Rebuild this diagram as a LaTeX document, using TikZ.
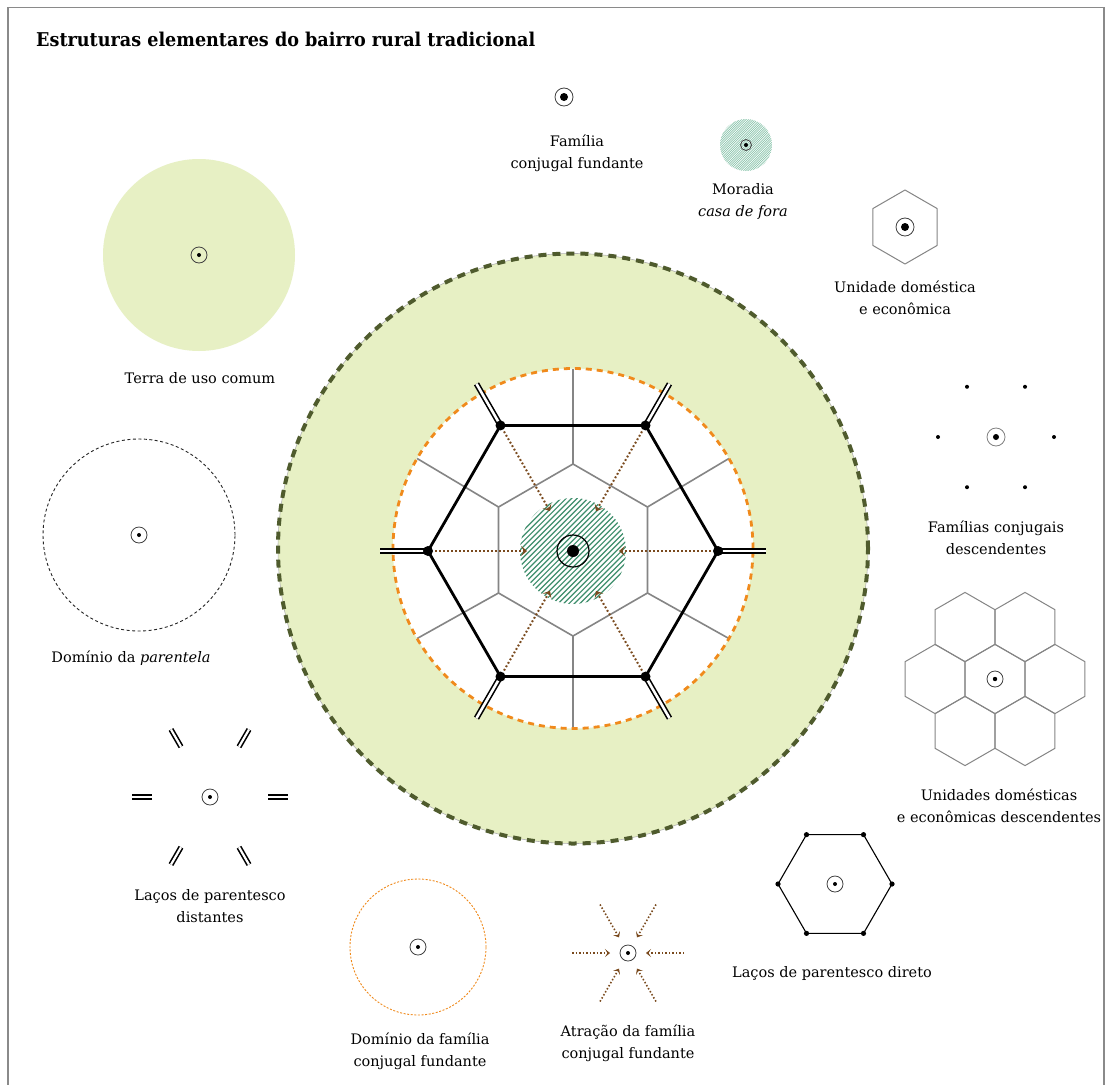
\documentclass[tikz,border=0pt]{standalone}
\usepackage{fontspec}
\setmainfont{DejaVu Serif}
\usetikzlibrary{arrows.meta,calc}
\definecolor{lgreen}{HTML}{E7F0C4}
\definecolor{olivec}{HTML}{4F5B2D}
\definecolor{orng}{HTML}{F08A1C}
\definecolor{brwn}{HTML}{7A4A1E}
\definecolor{hatchg}{HTML}{3E8E6C}
\definecolor{hatchl}{HTML}{8CC6AE}
\definecolor{framec}{HTML}{8A8A8A}
\definecolor{hexgray}{HTML}{858585}
\tikzset{
  lbl/.style={align=center, font=\fontsize{14.5}{22}\selectfont, inner sep=0pt},
  ringst/.style={draw=black!75, line width=0.8pt},
  darrow/.style={brwn, line width=2pt, dash pattern=on 1.8pt off 2.2pt,
    -{Stealth[length=6pt,width=10pt,inset=3pt]}},
  sarrow/.style={brwn, line width=1.6pt, dash pattern=on 1.5pt off 2pt,
    -{Stealth[length=5pt,width=8pt,inset=2.5pt]}},
  dbl/.style={line width=1.6pt, double=white, double distance=2.6pt},
  dblsmall/.style={line width=1.6pt, double=white, double distance=2.2pt},
  hexline/.style={hexgray, line width=1pt, line join=round},
}
\newcommand{\famring}[4]{\draw[ringst] (#1,#2) circle[radius=#3pt]; \fill (#1,#2) circle[radius=#4pt];}
\begin{document}
\begin{tikzpicture}[x=1pt,y=-1pt]
\useasboundingbox (0,0) rectangle (1108,1084);
\fill[white] (0,0) rectangle (1108,1084);
\draw[framec, line width=1.2pt] (8,1100) -- (8,7.5) -- (1104,7.5) -- (1104,1100);

\node[anchor=base west, font=\fontsize{19}{22}\selectfont\bfseries, inner sep=0pt] (title) at (36,46) {\scalebox{0.926}[1]{Estruturas elementares do bairro rural tradicional}};

% ---------- central diagram ----------
\coordinate (C) at (573,548.5);
\fill[lgreen] (C) circle[radius=295pt];
\draw[gray!60, line width=0.6pt] (C) circle[radius=295pt];
\draw[olivec, line width=4pt, dash pattern=on 8pt off 6pt] (C) circle[radius=295pt];
\fill[white] (C) circle[radius=180pt];

\coordinate (H) at (573,550);
\draw[hexgray, line width=1.6pt, line join=round]
  ($(H)+(30:86)$) -- ($(H)+(90:86)$) -- ($(H)+(150:86)$) -- ($(H)+(210:86)$) -- ($(H)+(270:86)$) -- ($(H)+(330:86)$) -- cycle;
\foreach \a in {30,90,...,330}
  \draw[hexgray, line width=1.6pt] ($(H)+(\a:86)$) -- ($(C)+(\a:180)$);

\coordinate (B) at (573,551);
\begin{scope}
  \clip (B) circle[radius=53pt];
  \foreach \i in {-15,...,15}
    \draw[hatchg, line width=1.2pt] ($(B)+(\i*5.4-80,80)$) -- ++(160,-160);
\end{scope}

\draw[orng, line width=2.8pt, dash pattern=on 6pt off 5pt] (C) circle[radius=180pt];

\foreach \a [count=\k] in {0,60,...,300}
  \coordinate (v\k) at ($(B)+(\a:145)$);
\draw[line width=2.8pt, line join=round] (v1)--(v2)--(v3)--(v4)--(v5)--(v6)--cycle;
\foreach \a [count=\k] in {0,60,...,300}
  \draw[dbl] (v\k) -- ($(B)+(\a:193)$);
\foreach \k in {1,...,6} {
  \fill (v\k) circle[radius=5pt];
  \draw[darrow] ($(v\k)!7pt!(B)$) -- ($(B)!46pt!(v\k)$);
}
\draw[line width=1.2pt] (B) circle[radius=16pt];
\fill (B) circle[radius=6pt];

% ---------- Familia conjugal fundante ----------
\famring{564}{97}{9}{4}
\node[lbl] (fam) at (577,153) {Família\\conjugal fundante};

% ---------- Moradia ----------
\coordinate (M) at (746,145);
\begin{scope}
  \clip (M) circle[radius=26pt];
  \foreach \i in {-20,...,20}
    \draw[hatchl, line width=0.7pt] ($(M)+(\i*2.3-40,40)$) -- ++(80,-80);
\end{scope}
\famring{746}{145}{5.5}{2}
\node[lbl] (mor) at (743,201) {Moradia\\\textit{casa de fora}};

% ---------- Unidade domestica ----------
\coordinate (U) at (905,227);
\draw[hexline] ($(U)+(30:37)$) -- ($(U)+(90:37)$) -- ($(U)+(150:37)$) -- ($(U)+(210:37)$) -- ($(U)+(270:37)$) -- ($(U)+(330:37)$) -- cycle;
\famring{905}{227}{9}{4}
\node[lbl] (unid) at (905,298) {Unidade doméstica\\e econômica};

% ---------- Terra de uso comum ----------
\fill[lgreen] (199,255) circle[radius=96pt];
\famring{199}{255}{8}{2}
\node[lbl] (terra) at (200,378) {Terra de uso comum};

% ---------- Familias conjugais descendentes ----------
\coordinate (F) at (996,437);
\draw[gray, line width=0.8pt] (F) circle[radius=9pt];
\fill (F) circle[radius=3pt];
\foreach \a in {0,60,...,300}
  \fill ($(F)+(\a:58)$) circle[radius=2pt];
\node[lbl] (famdesc) at (996,538) {Famílias conjugais\\descendentes};

% ---------- Honeycomb ----------
\foreach \cx/\cy in {0/0,60/0,-60/0,30/52,-30/52,30/-52,-30/-52} {
  \coordinate (hc) at (995+\cx,679+\cy);
  \draw[hexline] ($(hc)+(30:34.6)$) -- ($(hc)+(90:34.6)$) -- ($(hc)+(150:34.6)$) -- ($(hc)+(210:34.6)$) -- ($(hc)+(270:34.6)$) -- ($(hc)+(330:34.6)$) -- cycle;
}
\famring{995}{679}{8}{2.2}
\node[lbl] (unidesc) at (999,806) {Unidades domésticas\\e econômicas descendentes};

% ---------- Dominio da parentela ----------
\draw[black!85, line width=0.9pt, dash pattern=on 3pt off 2.5pt] (139,535) circle[radius=96pt];
\famring{139}{535}{8}{2}
\node[lbl] (dompar) at (131,658) {Domínio da \textit{parentela}};

% ---------- Lacos distantes ----------
\coordinate (L) at (210,797);
\famring{210}{797}{8}{2}
\foreach \a in {0,60,...,300}
  \draw[dblsmall] ($(L)+(\a:58)$) -- ($(L)+(\a:78)$);
\node[lbl] (lacdist) at (210,906) {Laços de parentesco\\distantes};

% ---------- Dominio da familia ----------
\draw[orng, line width=0.9pt, dash pattern=on 2pt off 1.6pt] (418,947) circle[radius=68pt];
\famring{418}{947}{8}{2}
\node[lbl] (domfam) at (420,1051) {Domínio da família\\conjugal fundante};

% ---------- Atracao ----------
\coordinate (A) at (628,953);
\famring{628}{953}{8}{2}
\foreach \a in {0,60,...,300}
  \draw[sarrow] ($(A)+(\a:56)$) -- ($(A)+(\a:18)$);
\node[lbl] (atr) at (628,1043) {Atração da família\\conjugal fundante};

% ---------- Lacos direto ----------
\coordinate (P) at (835,884);
\draw[line width=1.1pt, line join=round] ($(P)+(0:57)$) -- ($(P)+(60:57)$) -- ($(P)+(120:57)$) -- ($(P)+(180:57)$) -- ($(P)+(240:57)$) -- ($(P)+(300:57)$) -- cycle;
\foreach \a in {0,60,...,300}
  \fill ($(P)+(\a:57)$) circle[radius=2.6pt];
\famring{835}{884}{8}{2}
\node[lbl] (lacdir) at (832,973) {Laços de parentesco direto};
\end{tikzpicture}
\end{document}
